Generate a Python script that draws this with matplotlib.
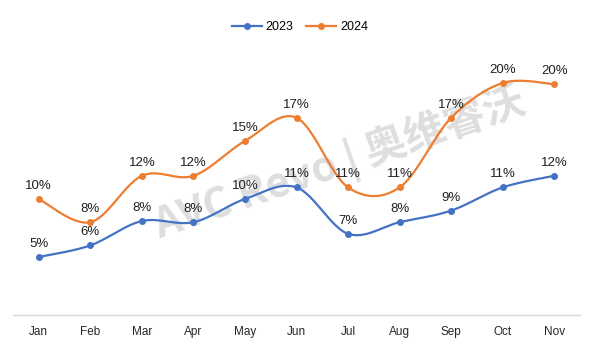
import numpy as np
import matplotlib
matplotlib.use("Agg")
import matplotlib.pyplot as plt

months = ["Jan", "Feb", "Mar", "Apr", "May", "Jun", "Jul", "Aug", "Sep", "Oct", "Nov"]
s2023 = [5.0, 6.0, 8.1, 8.0, 10.0, 11.0, 7.0, 8.0, 9.0, 11.0, 12.0]
s2024 = [10.0, 8.0, 12.0, 12.0, 15.0, 17.0, 11.0, 11.0, 17.0, 20.0, 19.9]
labels2023 = ["5%", "6%", "8%", "8%", "10%", "11%", "7%", "8%", "9%", "11%", "12%"]
labels2024 = ["10%", "8%", "12%", "12%", "15%", "17%", "11%", "11%", "17%", "20%", "20%"]
series_names = ["2023", "2024"]
colors = ["#4472C4", "#ED7D31"]


def smooth(x, y, n=30):
    x = np.asarray(x, float)
    y = np.asarray(y, float)
    px = np.concatenate([[x[0]], x, [x[-1]]])
    py = np.concatenate([[y[0]], y, [y[-1]]])
    xs, ys = [], []
    t = np.linspace(0, 1, n)
    for i in range(len(x) - 1):
        p0 = np.array([px[i], py[i]])
        p1 = np.array([px[i + 1], py[i + 1]])
        p2 = np.array([px[i + 2], py[i + 2]])
        p3 = np.array([px[i + 3], py[i + 3]])
        c1 = p1 + (p2 - p0) / 6.0
        c2 = p2 - (p3 - p1) / 6.0
        b = ((1 - t) ** 3)[:, None] * p1 + (3 * (1 - t) ** 2 * t)[:, None] * c1 \
            + (3 * (1 - t) * t ** 2)[:, None] * c2 + (t ** 3)[:, None] * p2
        xs.append(b[:, 0])
        ys.append(b[:, 1])
    return np.concatenate(xs), np.concatenate(ys)


fig = plt.figure(figsize=(5.91, 3.57), dpi=100)
ax = fig.add_axes([13 / 591, 1 - 315 / 357, 567 / 591, 290 / 357])
x = np.arange(len(months))

# watermark
ax.text(0.577, 0.52, "AVC Revo | 奥维睿沃", transform=ax.transAxes, rotation=19,
        ha="center", va="center", fontsize=30, fontweight="bold", color="#dedede",
        family=["Noto Sans CJK SC", "DejaVu Sans"], zorder=0)

for vals, labs, name, c in [(s2023, labels2023, series_names[0], colors[0]),
                            (s2024, labels2024, series_names[1], colors[1])]:
    sx, sy = smooth(x, vals)
    ax.plot(sx, sy, color=c, lw=1.6, zorder=3)
    ax.plot(x, vals, "o", color=c, ms=4, zorder=4)
    ax.plot([], [], color=c, lw=1.6, marker="o", ms=4, label=name)
    for xi, v, l in zip(x, vals, labs):
        ax.annotate(l, (xi, v), xytext=(0, 5), textcoords="offset points",
                    ha="center", va="bottom", fontsize=9.5, color="#1f1f1f",
                    family="Liberation Sans", zorder=5)

ax.set_xlim(-0.5, len(months) - 0.5)
ax.set_ylim(0, 25)
ax.set_xticks(x)
ax.set_xticklabels(months, fontsize=8.5, color="#262626", family="Liberation Sans")
ax.tick_params(axis="x", length=0, pad=8)
ax.set_yticks([])
for sp in ["top", "right", "left"]:
    ax.spines[sp].set_visible(False)
ax.spines["bottom"].set_color("#d9d9d9")
ax.spines["bottom"].set_linewidth(1)

leg = fig.legend(loc="center", bbox_to_anchor=(300 / 591, 1 - 27 / 357), ncol=2,
                 frameon=False, prop={"family": "Liberation Sans", "size": 9},
                 handlelength=2.4, columnspacing=1.0, handletextpad=0.3)
fig.savefig("out.png", dpi=100)
